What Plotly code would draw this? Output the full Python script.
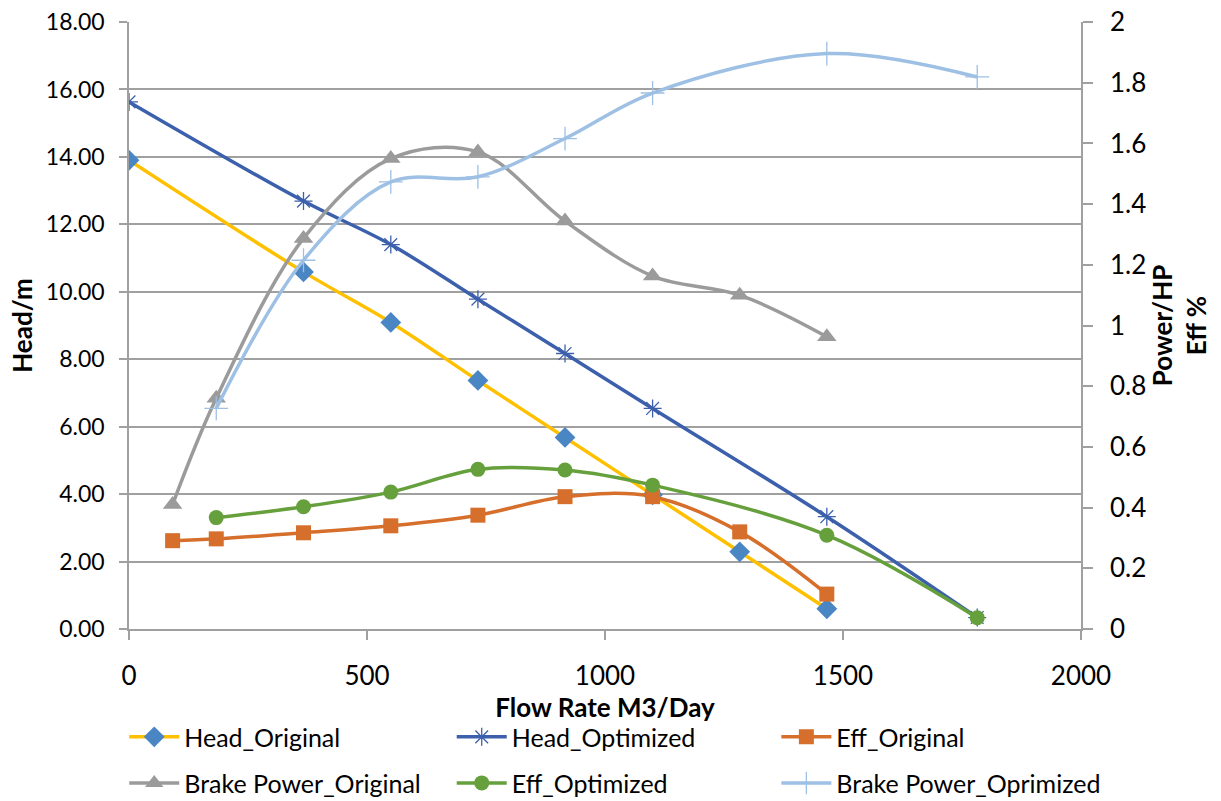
import plotly.graph_objects as go

# Flow rate (M3/Day) for each test point
flow_head_orig = [0, 366.6, 550, 733, 916, 1100, 1283, 1466]
flow_head_opt = [0, 366.6, 550, 733, 916, 1100, 1466, 1782]
flow_eff_orig = [91.6, 183.3, 366.6, 550, 733, 916, 1100, 1283, 1466]
flow_bp_orig = [91.6, 183.3, 366.6, 550, 733, 916, 1100, 1283, 1466]
flow_eff_opt = [183.3, 366.6, 550, 733, 916, 1100, 1466, 1782]
flow_bp_opt = [183.3, 366.6, 550, 733, 916, 1100, 1466, 1782]

# Head (m), left axis
head_original = [13.90, 10.59, 9.09, 7.37, 5.68, 3.98, 2.29, 0.60]
head_optimized = [15.63, 12.69, 11.40, 9.78, 8.17, 6.54, 3.33, 0.34]

# Efficiency (fraction) and brake power (HP), right axis
eff_original = [0.291, 0.297, 0.317, 0.340, 0.375, 0.436, 0.436, 0.320, 0.115]
brake_power_original = [0.41, 0.76, 1.287, 1.55, 1.572, 1.344, 1.163, 1.10, 0.963]
eff_optimized = [0.367, 0.403, 0.451, 0.526, 0.524, 0.474, 0.309, 0.037]
brake_power_optimized = [0.727, 1.215, 1.473, 1.49, 1.616, 1.766, 1.896, 1.819]

FONT = "Lato"
AX = "#A0A0A0"

# one single-entry legend per series, laid out as a 3 x 2 grid under the x axis
legend_cols = [-0.005, 0.339, 0.680]
legend_rows = [-0.178, -0.254]

fig = go.Figure()
layout_legends = {}

def add(idx, name, x, y, line_color, symbol, marker_color, size, yaxis, mline=0):
    key = "legend" if idx == 0 else f"legend{idx + 1}"
    fig.add_trace(go.Scatter(
        x=x, y=y, name=name, mode="lines+markers", yaxis=yaxis, legend=key, showlegend=True,
        line=dict(color=line_color, width=3.5, shape="spline", smoothing=1),
        marker=dict(symbol=symbol, size=size, color=marker_color,
                    line=dict(width=mline, color=marker_color)),
    ))
    layout_legends[key] = dict(
        x=legend_cols[idx % 3], y=legend_rows[idx // 3], xanchor="left", yanchor="middle",
        orientation="h", itemwidth=50, bgcolor="rgba(0,0,0,0)", visible=True,
        font=dict(family=FONT, size=25, color="#000"),
    )

add(0, "Head_Original", flow_head_orig, head_original, "#FFC000", "diamond", "#4A86C4", 16, "y")
add(1, "Head_Optimized", flow_head_opt, head_optimized, "#3C60AC", "asterisk-open", "#3C60AC", 15, "y", 1.3)
add(2, "Eff_Original", flow_eff_orig, eff_original, "#D56F2B", "square", "#D56F2B", 15, "y2")
add(3, "Brake Power_Original", flow_bp_orig, brake_power_original, "#9B9B9B", "triangle-up", "#9B9B9B", 17, "y2")
add(4, "Eff_Optimized", flow_eff_opt, eff_optimized, "#66A03C", "circle", "#66A03C", 15, "y2")
add(5, "Brake Power_Oprimized", flow_bp_opt, brake_power_optimized, "#9DC0E4", "cross-thin-open", "#9DC0E4", 17, "y2", 1.3)

fig.update_layout(
    width=1221, height=801,
    showlegend=True,
    margin=dict(l=129, r=140, t=22, b=172, autoexpand=False),
    paper_bgcolor="white", plot_bgcolor="white",
    font=dict(family=FONT, color="#000"),
    xaxis=dict(range=[0, 2000], dtick=500, showgrid=False, zeroline=False,
               showline=True, linecolor=AX, linewidth=1.5, ticks="outside", ticklen=9,
               tickcolor=AX, tickwidth=1.5, ticklabelstandoff=14,
               tickfont=dict(family=FONT, size=26),
               title=dict(text="<b>Flow Rate M3/Day</b>", font=dict(family=FONT, size=26), standoff=2)),
    yaxis=dict(range=[0, 18], dtick=2, tickformat=".2f", showgrid=True, gridcolor=AX, gridwidth=1.5,
               zeroline=False, showline=True, linecolor=AX, linewidth=1.5, ticks="outside",
               ticklen=8, tickcolor=AX, tickwidth=1.5, ticklabelstandoff=10,
               tickfont=dict(family=FONT, size=23),
               title=dict(text="<b>Head/m</b>", font=dict(family=FONT, size=26), standoff=6)),
    yaxis2=dict(range=[0, 2], dtick=0.2, overlaying="y", side="right", showgrid=False,
                zeroline=False, showline=True, linecolor=AX, linewidth=1.5, ticks="outside",
                ticklen=10, tickcolor=AX, tickwidth=1.5, ticklabelstandoff=12,
                tickfont=dict(family=FONT, size=26),
                title=dict(text="<b>Power/HP<br>Eff %</b>", font=dict(family=FONT, size=26), standoff=2)),
    **layout_legends,
)

fig.write_html("out.html")
